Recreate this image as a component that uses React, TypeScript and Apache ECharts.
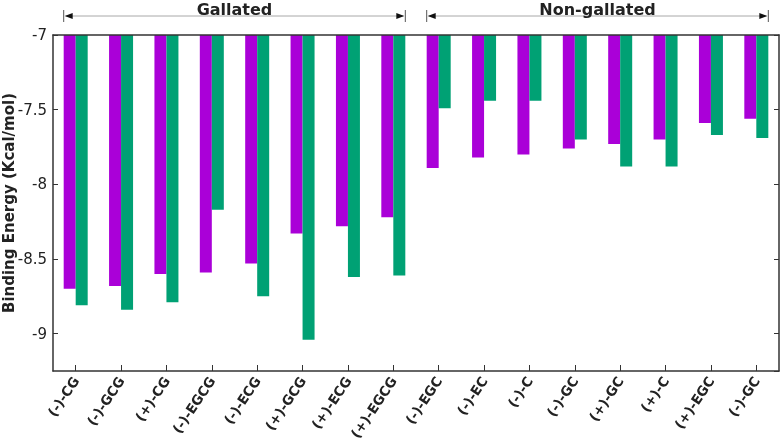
import React, { useEffect, useRef } from 'react';
import * as echarts from 'echarts';

const categories = ['(-)-CG', '(-)-GCG', '(+)-CG', '(-)-EGCG', '(-)-ECG', '(+)-GCG', '(+)-ECG', '(+)-EGCG', '(-)-EGC', '(-)-EC', '(-)-C', '(-)-GC', '(+)-GC', '(+)-C', '(+)-EGC', '(-)-GC'];
const purpleValues = [-8.70, -8.68, -8.60, -8.59, -8.53, -8.33, -8.28, -8.22, -7.89, -7.82, -7.80, -7.76, -7.73, -7.70, -7.59, -7.56];
const greenValues = [-8.81, -8.84, -8.79, -8.17, -8.75, -9.04, -8.62, -8.61, -7.49, -7.44, -7.44, -7.70, -7.88, -7.88, -7.67, -7.69];
const groupNames = ['Gallated', 'Non-gallated'];
const groupStart = [0, 8];
const groupEnd = [7, 15];

const FONT = 'DejaVu Sans';
const BAR_W = 12;

export default function App() {
  const ref = useRef<HTMLDivElement>(null);
  useEffect(() => {
    const chart = echarts.init(ref.current!, null, { renderer: 'svg' });
    const axisColor = '#333';
    chart.setOption({
      animation: false,
      grid: { left: 53, right: 3, top: 35, bottom: 76, containLabel: false, outerBoundsMode: 'none' },
      xAxis: [
        {
          type: 'category',
          data: categories,
          position: 'bottom',
          z: 10,
          axisLine: { show: true, lineStyle: { color: axisColor, width: 1.5 } },
          axisTick: { show: true, inside: true, alignWithLabel: true, length: 6, lineStyle: { color: axisColor } },
          axisLabel: { interval: 0, rotate: 56, fontSize: 13.5, fontWeight: 'bold', fontFamily: FONT, color: '#222', margin: 7 },
          splitLine: { show: false },
        },
        {
          type: 'category',
          data: categories,
          position: 'top',
          z: 10,
          axisLine: { show: true, lineStyle: { color: axisColor, width: 1.5 } },
          axisTick: { show: false },
          axisLabel: { show: false },
          splitLine: { show: false },
        },
      ],
      yAxis: [
        {
          type: 'value',
          min: -9.25,
          max: -7,
          minInterval: 0.5,
          maxInterval: 0.5,
          z: 10,
          name: 'Binding Energy (Kcal/mol)',
          nameLocation: 'middle',
          nameGap: 37,
          nameMoveOverlap: false,
          nameTextStyle: { fontWeight: 'bold', fontSize: 15, fontFamily: FONT, color: '#222' },
          axisLine: { show: true, lineStyle: { color: axisColor, width: 1.5 } },
          axisTick: { show: true, inside: true, length: 5, lineStyle: { color: axisColor } },
          axisLabel: { showMinLabel: false, fontSize: 15, fontFamily: FONT, color: '#222', margin: 6 },
          splitLine: { show: false },
        },
        {
          type: 'value',
          min: -9.25,
          max: -7,
          minInterval: 0.5,
          maxInterval: 0.5,
          position: 'right',
          z: 10,
          axisLine: { show: true, lineStyle: { color: axisColor, width: 1.5 } },
          axisTick: { show: true, inside: true, length: 5, lineStyle: { color: axisColor } },
          axisLabel: { show: false },
          splitLine: { show: false },
        },
      ],
      series: [
        { type: 'bar', data: purpleValues, barWidth: BAR_W, barGap: '0%', itemStyle: { color: '#aa00d8' } },
        { type: 'bar', data: greenValues, barWidth: BAR_W, barGap: '0%', itemStyle: { color: '#00a174' } },
      ],
    });

    const graphics: any[] = [];
    groupNames.forEach((name, g) => {
      const x1 = (chart.convertToPixel({ xAxisIndex: 0 }, groupStart[g]) as number) - BAR_W;
      const x2 = (chart.convertToPixel({ xAxisIndex: 0 }, groupEnd[g]) as number) + BAR_W;
      const y = 16;
      graphics.push(
        { type: 'line', shape: { x1: x1 + 2, y1: y, x2: x2 - 2, y2: y }, style: { stroke: '#a8a8a8', lineWidth: 1 } },
        { type: 'line', shape: { x1, y1: y - 6, x2: x1, y2: y + 6 }, style: { stroke: '#555', lineWidth: 1 } },
        { type: 'line', shape: { x1: x2, y1: y - 6, x2: x2, y2: y + 6 }, style: { stroke: '#555', lineWidth: 1 } },
        { type: 'polygon', shape: { points: [[x1 + 1, y], [x1 + 9, y - 3], [x1 + 9, y + 3]] }, style: { fill: '#111' } },
        { type: 'polygon', shape: { points: [[x2 - 1, y], [x2 - 9, y - 3], [x2 - 9, y + 3]] }, style: { fill: '#111' } },
        {
          type: 'text',
          x: (x1 + x2) / 2,
          y: 9,
          style: { text: name, fontSize: 16, fontWeight: 'bold', fontFamily: FONT, fill: '#222', align: 'center', verticalAlign: 'middle' },
        },
      );
    });
    chart.setOption({ graphic: graphics });

    return () => chart.dispose();
  }, []);
  return <div ref={ref} style={{ position: 'fixed', left: 0, top: 0, width: 782, height: 447 }} />;
}
